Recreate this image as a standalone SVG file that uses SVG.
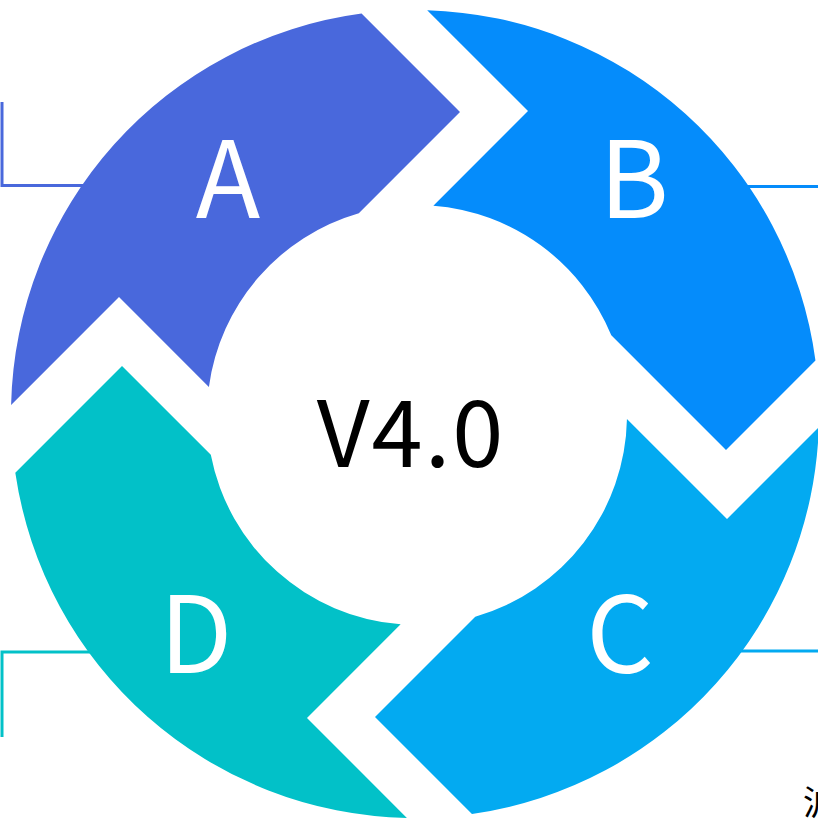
<svg xmlns="http://www.w3.org/2000/svg" width="818" height="821" viewBox="0 0 818 821">
<style>
.lbl{font-family:"Noto Sans CJK SC","Noto Sans",sans-serif;fill:#ffffff;text-anchor:middle;font-size:106px}
.ln{fill:none;stroke-width:3}
</style>
<rect width="818" height="821" fill="#ffffff"/>
<g id="connectors">
<polyline class="ln" stroke="#4968DC" points="2,102 2,185.5 100,185.5"/>
<polyline class="ln" stroke="#058CFB" points="730,186.5 818,186.5"/>
<polyline class="ln" stroke="#02C1C8" points="2,737 2,652 110,652"/>
<polyline class="ln" stroke="#03AAF1" points="730,651 818,651"/>
</g>
<g id="A">
<path fill="#4968DC" d="M11.1,404.9 A404,404 0 0 1 361.55,13.55 L460,112 L358.8,213.2 A210,210 0 0 0 208.9,386.9 L119,297 Z"/>
<text class="lbl" x="228" y="218">A</text>
</g>
<g id="B">
<path fill="#058CFB" d="M427.2,10.2 A404,404 0 0 1 815.45,360.55 L726,450 L611.3,335.3 A210,210 0 0 0 433.35,205.65 L528,111 Z"/>
<text class="lbl" x="634" y="218">B</text>
</g>
<g id="C">
<path fill="#03AAF1" d="M818.8,427.2 A404,404 0 0 1 471.96,813.96 L375,717 L475.25,616.75 A210,210 0 0 0 626.95,418.95 L727,519 Z"/>
<text class="lbl" x="620" y="673">C</text>
</g>
<g id="D">
<path fill="#02C1C8" d="M406.9,817.9 A404,404 0 0 1 15.3,472.7 L122,366 L210.8,454.8 A210,210 0 0 0 400.65,624.35 L307,718 Z"/>
<text class="lbl" x="196" y="673">D</text>
</g>
<g id="center">
<text x="411" y="467" font-family="Noto Sans CJK SC,Noto Sans,sans-serif" font-size="92" letter-spacing="2" text-anchor="middle" fill="#000000">V4.0</text>
</g>
<text x="803" y="815" font-family="Noto Sans CJK SC,sans-serif" font-size="34" fill="#000000">沪</text>
</svg>
